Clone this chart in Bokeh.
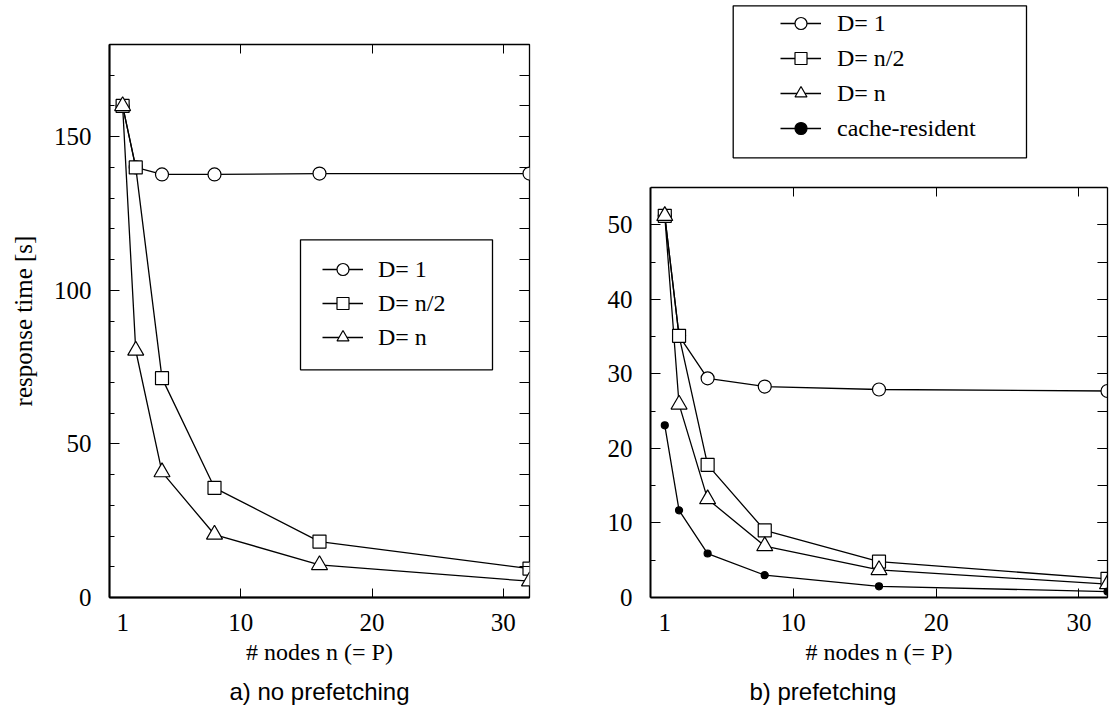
from bokeh.plotting import figure
from bokeh.layouts import row
from bokeh.models import (Range1d, FixedTicker, SingleIntervalTicker, LinearAxis,
                          Legend, LegendItem, Title, BoxAnnotation, CustomLabelingPolicy)
from bokeh.embed import file_html
from bokeh.resources import INLINE

# ---------------- data ----------------
nodes = [1, 2, 4, 8, 16, 32]

# a) no prefetching
a_d1 = [160, 140, 137.7, 137.7, 138, 138]
a_dn2 = [160, 140, 71.4, 35.7, 18.2, 9.4]
a_dn = [160, 80.4, 40.8, 20.5, 10.6, 5.3]

# b) prefetching
b_d1 = [51.2, 35.1, 29.4, 28.3, 27.9, 27.7]
b_dn2 = [51.2, 35.1, 17.8, 9.0, 4.8, 2.5]
b_dn = [51.2, 25.9, 13.2, 6.9, 3.7, 1.8]
b_cache = [23.1, 11.7, 5.9, 3.0, 1.5, 0.8]

x_labels_ticks = [1, 10, 20, 30]
x_mark_ticks = [10, 20, 30]
labels3 = ["D= 1", "D= n/2", "D= n"]
labels4 = ["D= 1", "D= n/2", "D= n", "cache-resident"]

a_y_max = 180
b_y_max = 55

SERIF = "Liberation Serif"
SANS = "Liberation Sans"
H = 713
BB = 116

NO_LABELS = """
for (const i of indices) {
    indices.unset(i)
}
return indices
"""


def make_fig(width, bl, br, bt, y_max, y_int, y_minor, caption, ylabel, cap_align, cap_offset,
             box_px=None):
    frame_h = H - bt - BB
    # when box_px is given, the visible box (0..y_max) only occupies box_px pixels of the frame
    y_end = y_max if box_px is None else y_max * frame_h / box_px
    p = figure(width=width, height=H, x_range=Range1d(0, 32), y_range=Range1d(0, y_end),
               output_backend="svg", toolbar_location=None,
               x_axis_type=None, y_axis_type=None,
               min_border_left=bl, min_border_right=br, min_border_top=bt, min_border_bottom=BB)
    p.frame_align = False
    p.title.visible = False
    p.xgrid.visible = False
    p.ygrid.visible = False
    p.background_fill_color = "white"
    p.border_fill_color = "white"
    if box_px is None:
        p.outline_line_color = "black"
        p.outline_line_width = 1.3
    else:
        p.outline_line_color = None

    xb = LinearAxis(ticker=FixedTicker(ticks=x_labels_ticks, minor_ticks=x_mark_ticks))
    xb.major_tick_in = 0
    xb.major_tick_out = 0
    xb.minor_tick_in = 9
    xb.minor_tick_out = 0
    xb.minor_tick_line_color = "black"
    xb.axis_line_width = 2
    xb.axis_line_color = "black"
    xb.major_label_standoff = 16
    xb.major_label_text_font = SERIF
    xb.major_label_text_font_size = "25px"
    xb.major_label_text_color = "black"
    xb.axis_label = "# nodes n (= P)"
    xb.axis_label_text_font = SERIF
    xb.axis_label_text_font_size = "24px"
    xb.axis_label_text_font_style = "normal"
    xb.axis_label_text_color = "black"
    xb.axis_label_standoff = 5
    p.add_layout(xb, "below")

    t = Title(text=caption, align=cap_align, offset=cap_offset, text_font=SANS,
              text_font_size="24px", text_font_style="normal", text_color="black",
              standoff=16)
    p.add_layout(t, "below")

    xt = LinearAxis(ticker=FixedTicker(ticks=x_mark_ticks))
    xt.major_tick_in = 9
    xt.major_tick_out = 0
    xt.minor_tick_in = 0
    xt.minor_tick_out = 0
    xt.major_label_text_font_size = "0px"
    xt.major_label_standoff = 0
    xt.major_label_policy = CustomLabelingPolicy(code=NO_LABELS)
    if box_px is None:
        xt.axis_line_color = None
    else:
        xt.fixed_location = y_max
        xt.axis_line_color = "black"
        xt.axis_line_width = 1.3
    p.add_layout(xt, "above")

    yl = LinearAxis(ticker=SingleIntervalTicker(interval=y_int, num_minor_ticks=y_minor),
                    bounds=(0, y_max))
    yl.major_tick_in = 10
    yl.major_tick_out = 0
    yl.minor_tick_in = 5
    yl.minor_tick_out = 0
    yl.axis_line_width = 2
    yl.axis_line_color = "black"
    yl.major_label_standoff = 18
    yl.major_label_text_font = SERIF
    yl.major_label_text_font_size = "25px"
    yl.major_label_text_color = "black"
    if ylabel:
        yl.axis_label = ylabel
        yl.axis_label_text_font = SERIF
        yl.axis_label_text_font_size = "25px"
        yl.axis_label_text_font_style = "normal"
        yl.axis_label_text_color = "black"
        yl.axis_label_standoff = 14
    p.add_layout(yl, "left")

    yr = LinearAxis(ticker=SingleIntervalTicker(interval=y_int, num_minor_ticks=y_minor),
                    bounds=(0, y_max))
    yr.major_tick_in = 10
    yr.major_tick_out = 0
    yr.minor_tick_in = 10
    yr.minor_tick_out = 0
    yr.major_label_text_font_size = "0px"
    yr.major_label_standoff = 0
    yr.major_label_policy = CustomLabelingPolicy(code=NO_LABELS)
    if box_px is None:
        yr.axis_line_color = None
    else:
        yr.axis_line_color = "black"
        yr.axis_line_width = 1.3
    p.add_layout(yr, "right")
    return p


def add_legend(p, labels, lines, marks, box, x, top, gw, standoff, sp):
    # legend frame (left, right, top, bottom) in screen units relative to the plot frame
    bl_, br_, bt_, bb_ = box
    p.add_layout(BoxAnnotation(left=bl_, right=br_, top=bt_, bottom=bb_,
                               left_units="screen", right_units="screen",
                               top_units="screen", bottom_units="screen",
                               fill_color="white", fill_alpha=1.0,
                               line_color="black", line_width=1.3, line_alpha=1.0))
    n = len(labels)
    item_h = 30
    h = n * item_h + (n - 1) * sp
    leg = Legend(items=[LegendItem(label=l, renderers=[ln, mk])
                        for l, ln, mk in zip(labels, lines, marks)],
                 location=(x, top - h), orientation="vertical",
                 glyph_width=gw, glyph_height=item_h, label_height=item_h,
                 label_standoff=standoff, padding=0, spacing=sp, margin=0,
                 border_line_color=None, background_fill_alpha=0,
                 label_text_font=SERIF, label_text_font_size="24px",
                 label_text_color="black")
    p.add_layout(leg, "center")
    return leg


LW = 1.3
MLW = 1.2

# ---------------- plot a ----------------
p1 = make_fig(553, 109, 24, 44, a_y_max, 50, 5, "a) no prefetching", "response time [s]", "center", 0)
la1 = p1.line(nodes, a_d1, line_color="black", line_width=LW)
la2 = p1.line(nodes, a_dn2, line_color="black", line_width=LW)
la3 = p1.line(nodes, a_dn, line_color="black", line_width=LW)
sa1 = p1.scatter(nodes, a_d1, marker="circle", size=13, fill_color="white", line_color="black", line_width=MLW)
sa2 = p1.scatter(nodes, a_dn2, marker="square", size=13, fill_color="white", line_color="black", line_width=MLW)
sa3 = p1.scatter(nodes, a_dn, marker="triangle", size=16, fill_color="white", line_color="black", line_width=MLW)

add_legend(p1, labels3, [la1, la2, la3], [sa1, sa2, sa3],
           (191, 383, 357.7, 227.7), 213, 342.7, 41, 15, 4)

# ---------------- plot b ----------------
p2 = make_fig(562, 97, 8, 4, b_y_max, 10, 2, "b) prefetching", None, "left", 99, box_px=410)
lb1 = p2.line(nodes, b_d1, line_color="black", line_width=LW)
lb2 = p2.line(nodes, b_dn2, line_color="black", line_width=LW)
lb3 = p2.line(nodes, b_dn, line_color="black", line_width=LW)
lb4 = p2.line(nodes, b_cache, line_color="black", line_width=LW)
sb1 = p2.scatter(nodes, b_d1, marker="circle", size=13, fill_color="white", line_color="black", line_width=MLW)
sb2 = p2.scatter(nodes, b_dn2, marker="square", size=13, fill_color="white", line_color="black", line_width=MLW)
sb3 = p2.scatter(nodes, b_dn, marker="triangle", size=16, fill_color="white", line_color="black", line_width=MLW)
sb4 = p2.scatter(nodes, b_cache, marker="circle", size=7, fill_color="black", line_color="black", line_width=MLW)

add_legend(p2, labels4, [lb1, lb2, lb3, lb4], [sb1, sb2, sb3, sb4],
           (82.7, 376, 591.7, 439.7), 130, 588.7, 41, 16, 5)

layout = row(p1, p2, spacing=0)
open("out.html", "w").write(file_html(layout, INLINE))
